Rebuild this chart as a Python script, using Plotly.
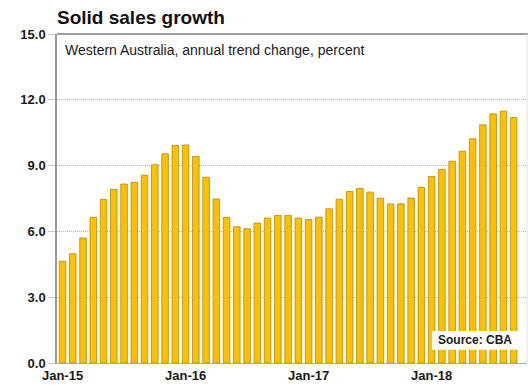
import plotly.graph_objects as go

# Monthly categories, Jan-2015 to Sep-2018
years = ["15", "16", "17", "18"]
month_names = ["Jan", "Feb", "Mar", "Apr", "May", "Jun",
               "Jul", "Aug", "Sep", "Oct", "Nov", "Dec"]
months = [f"{m}-{y}" for y in years for m in month_names][:45]

# Western Australia retail sales, annual trend change (%)
sales_growth = [
    4.64, 4.98, 5.70, 6.64, 7.46, 7.92, 8.16, 8.24, 8.56, 9.04, 9.54, 9.92,
    9.94, 9.42, 8.47, 7.48, 6.64, 6.21, 6.12, 6.38, 6.61, 6.73, 6.73, 6.61,
    6.54, 6.65, 7.03, 7.47, 7.82, 7.96, 7.79, 7.51, 7.25, 7.26, 7.52, 8.01,
    8.50, 8.83, 9.20, 9.65, 10.22, 10.86, 11.36, 11.48, 11.19,
]

x_tick_labels = ["Jan-15", "Jan-16", "Jan-17", "Jan-18"]
y_ticks = [0, 3, 6, 9, 12, 15]
y_tick_labels = ["0.0", "3.0", "6.0", "9.0", "12.0", "15.0"]

FONT = "Liberation Sans, Arial, sans-serif"

fig = go.Figure()
fig.add_trace(go.Bar(
    x=months,
    y=sales_growth,
    marker=dict(color="#FFC000", line=dict(color="#B08A10", width=0.8)),
    hoverinfo="x+y",
))

fig.update_layout(
    width=528,
    height=385,
    margin=dict(l=57, r=1, t=34, b=22),
    paper_bgcolor="white",
    plot_bgcolor="white",
    showlegend=False,
    bargap=0.36,
    font=dict(family=FONT, color="#1a1a1a"),
    xaxis=dict(
        type="category",
        range=[-0.54, 45.3],
        tickmode="array",
        tickvals=x_tick_labels,
        ticktext=x_tick_labels,
        ticks="",
        showgrid=False,
        showline=True,
        linecolor="#a8a8a8",
        linewidth=1,
        tickfont=dict(family=FONT, size=13, color="#1a1a1a", weight="bold"),
    ),
    yaxis=dict(
        range=[0, 15],
        tickmode="array",
        tickvals=y_ticks,
        ticktext=y_tick_labels,
        ticks="outside",
        ticklen=7,
        tickcolor="#c8c8c8",
        tickwidth=1,
        showgrid=True,
        gridcolor="#b8b8b8",
        griddash="1px,1px",
        gridwidth=1,
        showline=True,
        linecolor="#9a9a9a",
        linewidth=1.5,
        zeroline=False,
        tickfont=dict(family=FONT, size=13, color="#1a1a1a", weight="bold"),
    ),
    shapes=[
        # heavy frame line along the top of the plot area
        dict(type="line", xref="paper", yref="paper", x0=0, x1=1.01, y0=1, y1=1,
             line=dict(color="#a0a0a0", width=2.2)),
        # faint frame line on the right
        dict(type="line", xref="paper", yref="paper", x0=1, x1=1, y0=0, y1=1,
             line=dict(color="#e4e4e4", width=1)),
        # white panel behind the source note, drawn over the bars
        dict(type="rect", xref="paper", yref="paper", layer="above",
             x0=0.798, x1=0.987, y0=0.04, y1=0.097,
             fillcolor="white", line=dict(width=0)),
    ],
    annotations=[
        dict(text="<b>Solid sales growth</b>", xref="paper", yref="paper",
             x=0, y=1, xanchor="left", yanchor="middle", xshift=-2, yshift=17,
             showarrow=False, font=dict(family=FONT, size=19, color="#111111")),
        dict(text="Western Australia, annual trend change, percent",
             xref="paper", yref="paper", x=0, y=1, xanchor="left",
             yanchor="middle", xshift=6, yshift=-16, showarrow=False,
             font=dict(family=FONT, size=14, color="#1a1a1a")),
        dict(text="<b>Source: CBA</b>", xref="paper", yref="paper",
             x=0.806, y=0.07, xanchor="left", yanchor="middle",
             showarrow=False,
             font=dict(family=FONT, size=12, color="#1a1a1a")),
    ],
)

fig.write_html("out.html")
